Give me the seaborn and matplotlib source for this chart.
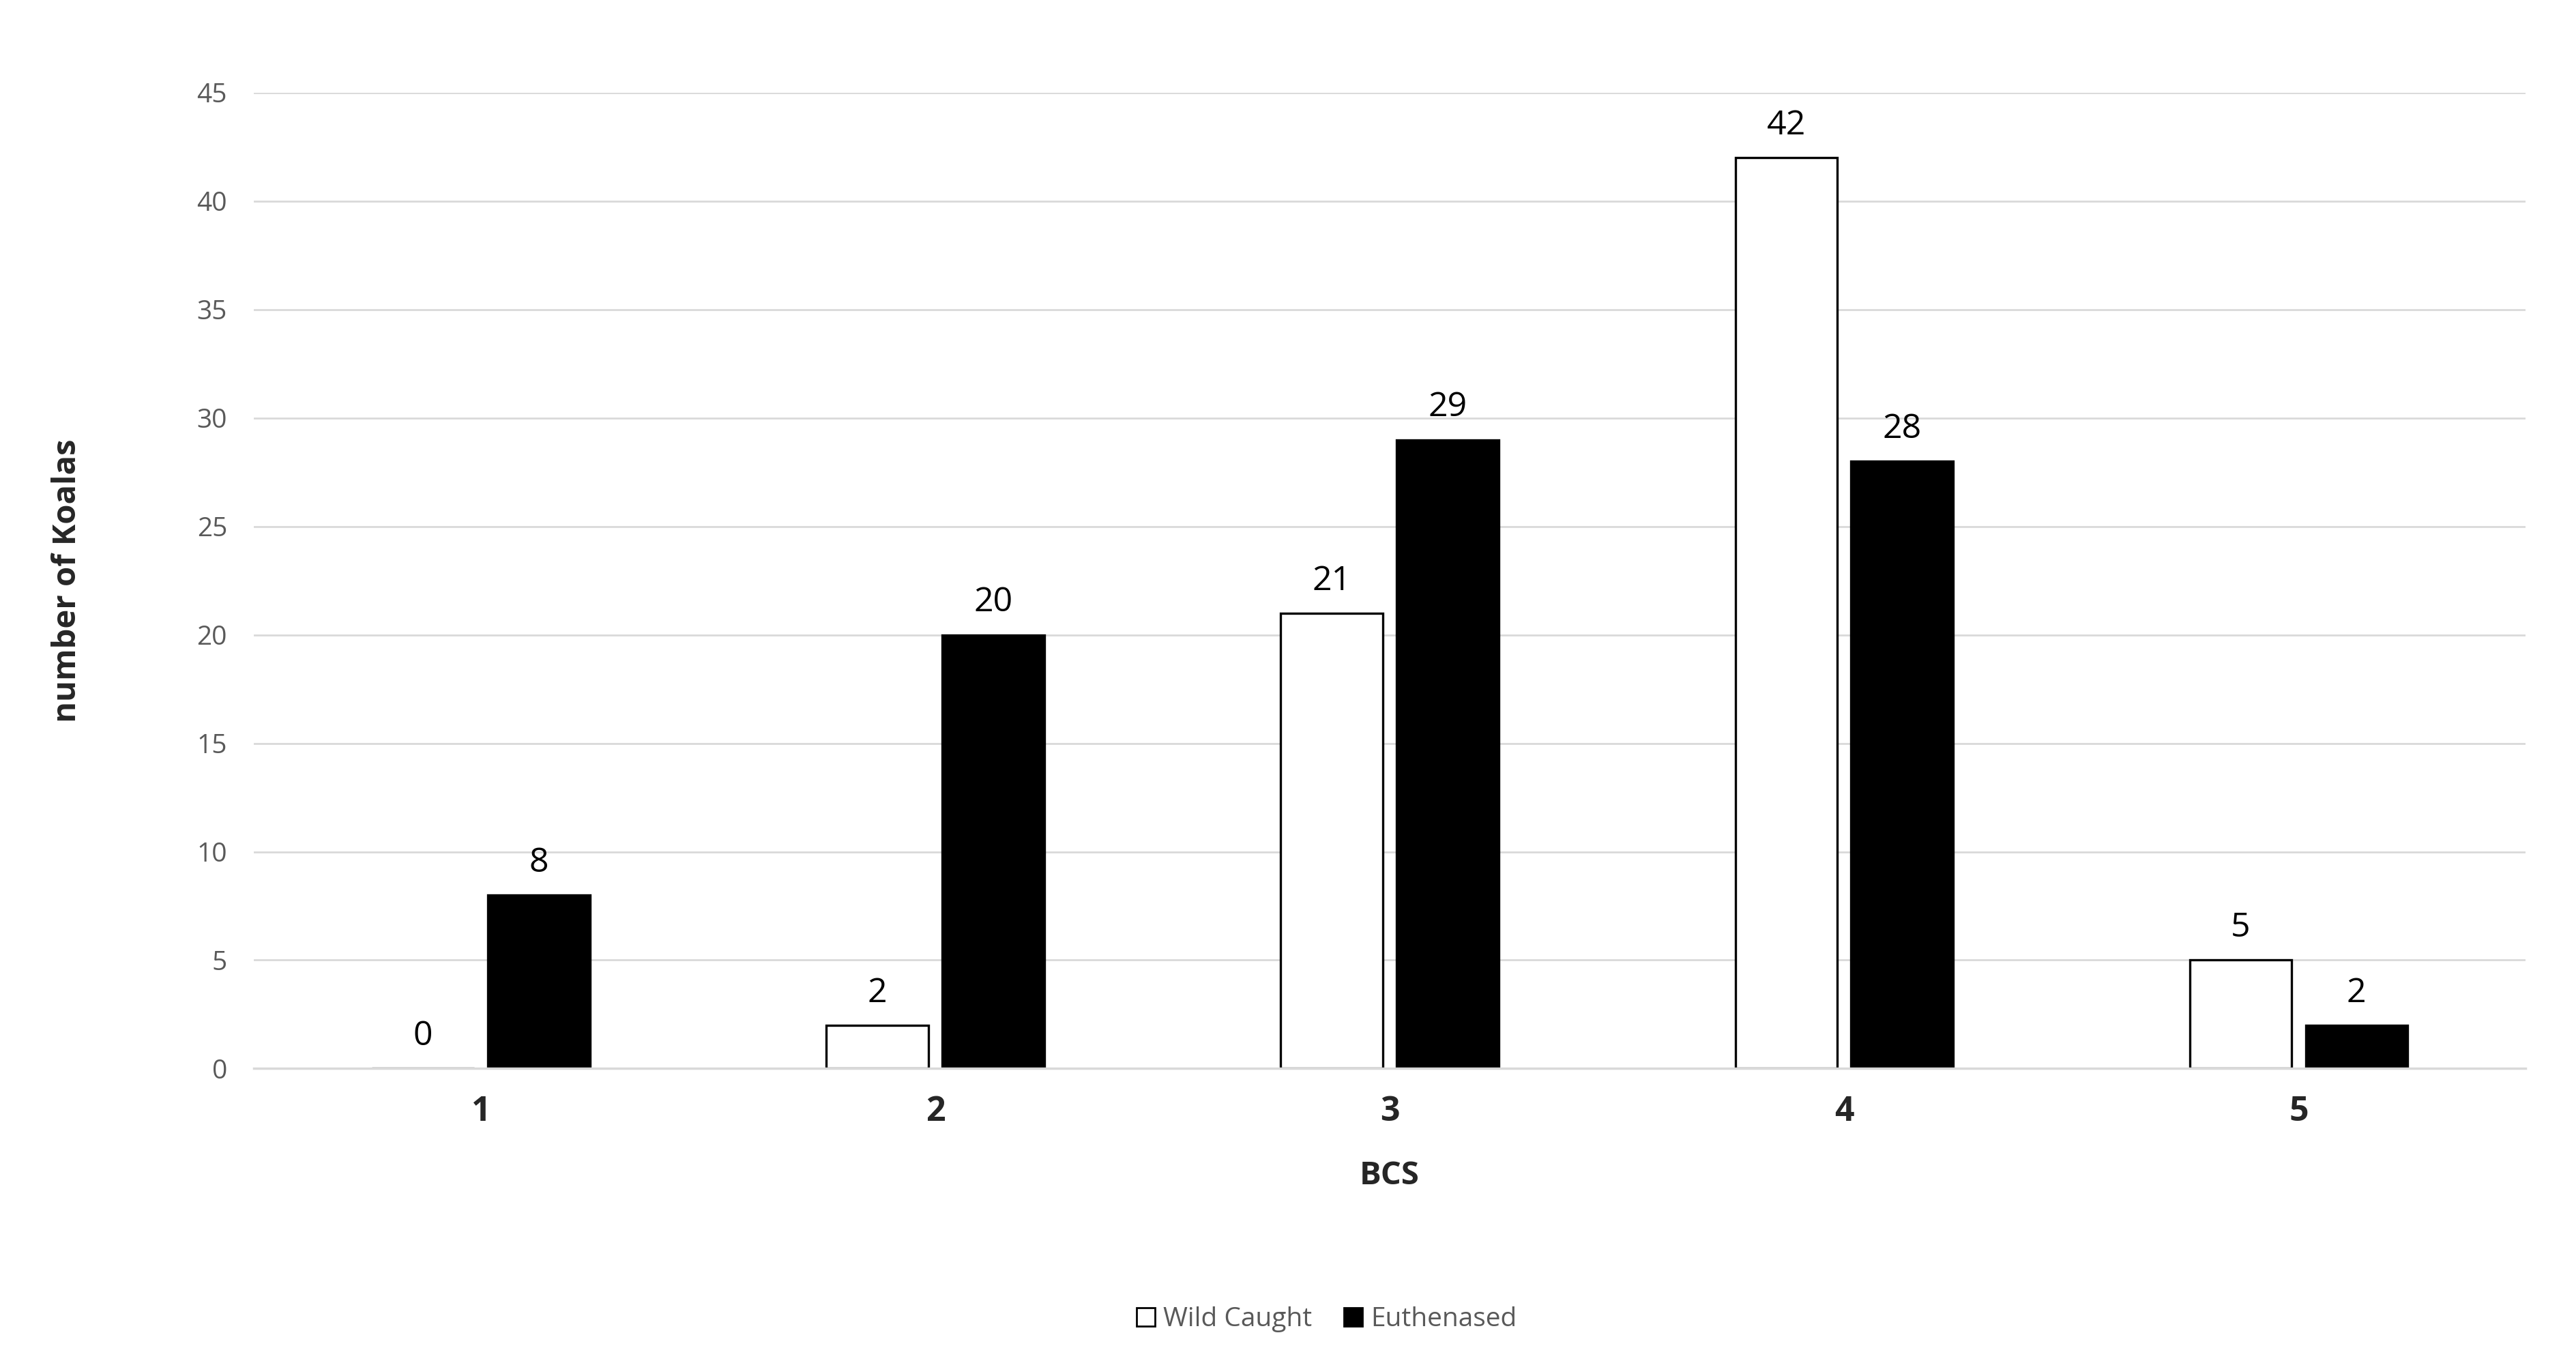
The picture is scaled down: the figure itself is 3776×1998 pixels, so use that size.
import matplotlib
matplotlib.use("Agg")
import matplotlib.pyplot as plt
import seaborn as sns
import pandas as pd

categories = ["1", "2", "3", "4", "5"]
wild_caught = [0, 2, 21, 42, 5]
euthenased = [8, 20, 29, 28, 2]
yticks = [0, 5, 10, 15, 20, 25, 30, 35, 40, 45]

df = pd.DataFrame({
    "BCS": categories * 2,
    "count": wild_caught + euthenased,
    "group": ["Wild Caught"] * 5 + ["Euthenased"] * 5,
})

sns.set_theme(style="white")
plt.rcParams["font.family"] = ["Open Sans", "DejaVu Sans"]

fig = plt.figure(figsize=(18.88, 9.99), dpi=200)
ax = fig.add_axes([0.0985, 0.216, 0.882, 0.716])
sns.barplot(data=df, x="BCS", y="count", hue="group", order=categories,
            hue_order=["Wild Caught", "Euthenased"],
            palette={"Wild Caught": "white", "Euthenased": "black"},
            edgecolor="black", linewidth=1.2, width=0.51, gap=0.12,
            legend=False, ax=ax)
for cont in ax.containers:
    ax.bar_label(cont, padding=8, fontsize=18, color="black")

ax.set_ylim(0, 45)
ax.set_yticks(yticks)
ax.yaxis.grid(True, color="#d9d9d9", linewidth=1)
ax.set_axisbelow(True)
for s in ["top", "right", "left"]:
    ax.spines[s].set_visible(False)
ax.spines["bottom"].set_color("#d9d9d9")
ax.tick_params(axis="y", labelsize=14, colors="#595959", pad=14, length=0)
ax.tick_params(axis="x", labelsize=18, length=0, pad=14)
for t in ax.get_xticklabels():
    t.set_fontweight("bold")
ax.set_xlabel("BCS", fontsize=17, fontweight="bold", labelpad=16)
ax.set_ylabel("number of Koalas", fontsize=17, fontweight="bold", labelpad=60)

from matplotlib.patches import Patch
handles = [Patch(facecolor="white", edgecolor="black", label="Wild Caught"),
           Patch(facecolor="black", edgecolor="black", label="Euthenased")]
leg = fig.legend(handles=handles, loc="center", bbox_to_anchor=(0.515, 0.032),
                 ncol=2, frameon=False, fontsize=14, handlelength=0.7,
                 handleheight=0.7, handletextpad=0.3, columnspacing=1.2)
for t in leg.get_texts():
    t.set_color("#595959")

fig.savefig("out.png", dpi=200)
